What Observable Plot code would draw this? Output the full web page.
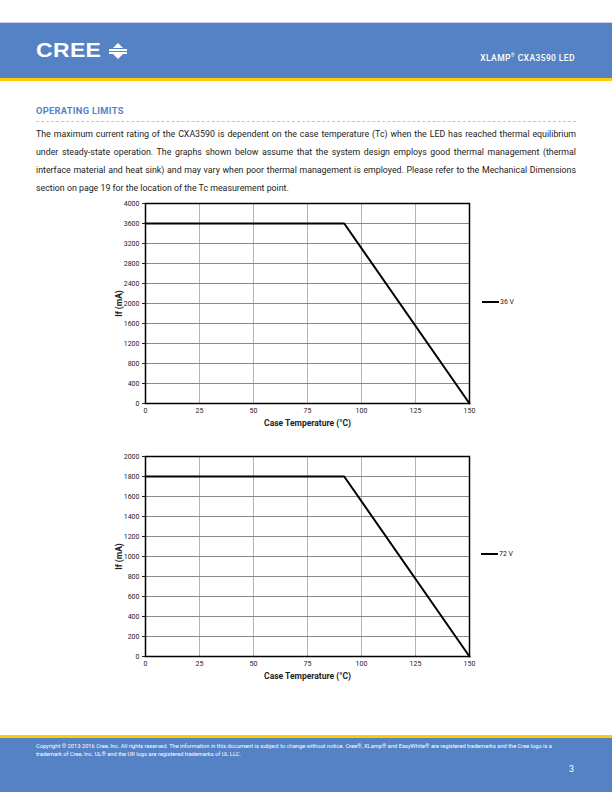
<!DOCTYPE html>
<html><head><meta charset="utf-8">
<script src="https://cdn.jsdelivr.net/npm/d3@7"></script>
<script src="https://cdn.jsdelivr.net/npm/@observablehq/plot@0.6"></script>
<style>
html,body{margin:0;padding:0}
body{width:612px;height:792px;position:relative;overflow:hidden;font-family:Roboto,"Noto Sans",sans-serif;background:#fff;color:#222}
.abs{position:absolute}
#topline{left:0;top:22px;width:612px;height:1px;background:#c9d3e3}
#header{left:0;top:23px;width:612px;height:55px;background:#5482c5}
#hyellow{left:0;top:78px;width:612px;height:3px;background:#ffcc00}
#logo{left:36px;top:38px;color:#fff;font-family:"Liberation Sans",Arial,sans-serif;font-weight:bold;font-size:20px;letter-spacing:0.3px;line-height:24px;transform:scaleX(1.15);transform-origin:left center}
#sym{left:109px;top:43px;width:18px;height:16px}
.tri-up{position:absolute;left:4px;top:0;width:0;height:0;border-left:5px solid transparent;border-right:5px solid transparent;border-bottom:5px solid #fff}
.tri-dn{position:absolute;left:4px;top:11px;width:0;height:0;border-left:5px solid transparent;border-right:5px solid transparent;border-top:5px solid #fff}
.bar{position:absolute;left:0;width:18px;height:2px;background:#fff}
#prod{right:37px;top:50px;color:#fff;font-size:8.5px;font-weight:500;letter-spacing:0.4px;line-height:10px}
#heading{left:36px;top:105px;color:#5482c5;font-weight:bold;font-size:9.3px;letter-spacing:0.3px;line-height:12px}
#dots{left:36px;top:121px;width:540px;height:0;border-top:1px dashed #ffcc00}
#para{left:36px;top:125px;width:540px;font-size:8.8px;line-height:18px;text-align:justify;color:#222}
.chart{left:0;width:612px}
.chart svg{display:block}
.legend{font-size:7px;color:#222;display:flex;align-items:center;line-height:10px}
.legend .sw{width:17px;height:2px;background:#000;margin-right:1px}
#footyellow{left:0;top:735px;width:612px;height:3px;background:#ffcc00}
#footer{left:0;top:738px;width:612px;height:54px;background:#5482c5}
#copy{left:36px;top:742px;width:542px;color:#fff;font-size:5.7px;line-height:8px}
#page{left:569px;top:763px;color:#fff;font-size:9px;line-height:12px}
[aria-label="x-axis label"] text,[aria-label="y-axis label"] text{font-weight:bold;font-size:8.5px}
</style>
</head><body>
<div class="abs" id="topline"></div>
<div class="abs" id="header"></div>
<div class="abs" id="hyellow"></div>
<div class="abs" id="logo">CREE</div>
<div class="abs" id="sym"><div class="tri-up"></div><div class="bar" style="top:6px"></div><div class="bar" style="top:9px"></div><div class="tri-dn"></div></div>
<div class="abs" id="prod">XLAMP<sup style="font-size:5px">®</sup> CXA3590 LED</div>
<div class="abs" id="heading">OPERATING LIMITS</div>
<div class="abs" id="dots"></div>
<div class="abs" id="para">The maximum current rating of the CXA3590 is dependent on the case temperature (Tc) when the LED has reached thermal equilibrium under steady-state operation. The graphs shown below assume that the system design employs good thermal management (thermal interface material and heat sink) and may vary when poor thermal management is employed. Please refer to the Mechanical Dimensions section on page 19 for the location of the Tc measurement point.</div>

<div class="abs chart" id="chart1" style="top:195px"></div>
<div class="abs legend" style="left:482px;top:297px"><div class="sw"></div><span>36 V</span></div>
<div class="abs chart" id="chart2" style="top:448px"></div>
<div class="abs legend" style="left:481px;top:549px"><div class="sw"></div><span>72 V</span></div>

<div class="abs" id="footyellow"></div>
<div class="abs" id="footer"></div>
<div class="abs" id="copy">Copyright © 2013-2016 Cree, Inc. All rights reserved. The information in this document is subject to change without notice. Cree®, XLamp® and EasyWhite® are registered trademarks and the Cree logo is a trademark of Cree, Inc. UL® and the UR logo are registered trademarks of UL LLC.</div>
<div class="abs" id="page">3</div>

<script>
// Data
const caseTemp = [0, 92, 150];
const current36V = [3600, 3600, 0];
const current72V = [1800, 1800, 0];
const xTicks = [0, 25, 50, 75, 100, 125, 150];
const yTicks36V = [0, 400, 800, 1200, 1600, 2000, 2400, 2800, 3200, 3600, 4000];
const yTicks72V = [0, 200, 400, 600, 800, 1000, 1200, 1400, 1600, 1800, 2000];

function makeChart(values, yTicks, yMax) {
  const data = caseTemp.map((t, i) => ({t, i: values[i]}));
  return Plot.plot({
    width: 612, height: 240,
    marginLeft: 145, marginRight: 143, marginTop: 8, marginBottom: 32,
    style: {fontFamily: "Roboto, sans-serif", color: "#222", background: "transparent"},
    x: {domain: [0, 150]},
    y: {domain: [0, yMax]},
    marks: [
      Plot.gridX(xTicks.slice(1, -1), {stroke: "#b4b4b4", strokeOpacity: 1, strokeWidth: 1}),
      Plot.gridY(yTicks.slice(1, -1), {stroke: "#8a8a8a", strokeOpacity: 1, strokeWidth: 1}),
      Plot.axisX({ticks: xTicks, tickFormat: d => String(d), tickSize: 0, tickPadding: 5, fontSize: 7, label: "Case Temperature (°C)", labelAnchor: "center", labelArrow: "none", labelOffset: 22}),
      Plot.axisY({ticks: yTicks, tickFormat: d => String(d), tickSize: 3, tickPadding: 3, fontSize: 7, label: "If (mA)", labelAnchor: "center", labelArrow: "none", labelOffset: 30}),
      Plot.frame({stroke: "#000", strokeWidth: 1.5}),
      Plot.line(data, {x: "t", y: "i", stroke: "#000", strokeWidth: 2})
    ]
  });
}
document.getElementById("chart1").appendChild(makeChart(current36V, yTicks36V, 4000));
document.getElementById("chart2").appendChild(makeChart(current72V, yTicks72V, 2000));
</script>
</body></html>
